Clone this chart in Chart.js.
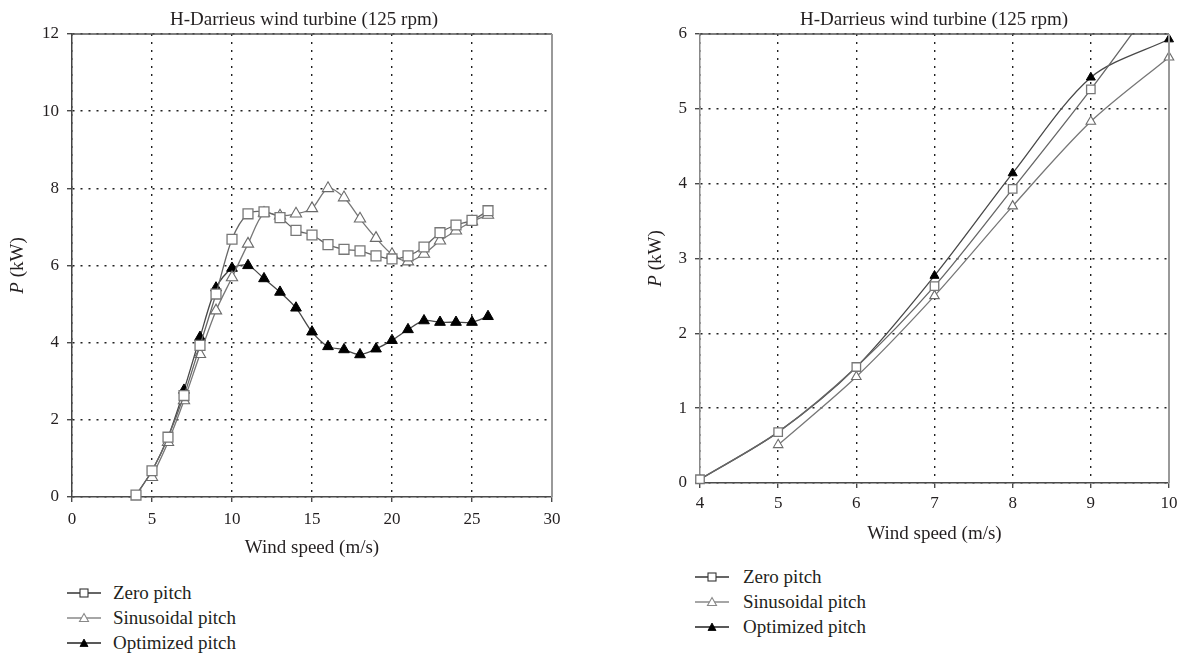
<!DOCTYPE html>
<html>
<head>
<meta charset="utf-8">
<script src="https://cdn.jsdelivr.net/npm/chart.js@4.4.1/dist/chart.umd.min.js"></script>
<style>
  body { margin: 0; background: #fff; width: 1194px; height: 655px; position: relative; overflow: hidden; font-family: "Liberation Serif", "DejaVu Serif", serif; color: #231f20; }
  canvas { position: absolute; top: 0; }
  #chart-left { left: 0; }
  #chart-right { left: 620px; }
  .legend { position: absolute; font-size: 19px; }
  .legend .row { display: flex; align-items: center; height: 25px; }
  .legend svg { flex: none; }
  #legend-left { left: 67px; top: 580px; }
  #legend-left svg { margin-right: 12px; }
  #legend-right { left: 695px; top: 564px; }
  #legend-right svg { margin-right: 14px; }
</style>
</head>
<body>
<canvas id="chart-left" width="600" height="560"></canvas>
<canvas id="chart-right" width="574" height="560"></canvas>
<div class="legend" id="legend-left"></div>
<div class="legend" id="legend-right"></div>
<script>
const windSpeed = [4, 5, 6, 7, 8, 9, 10, 11, 12, 13, 14, 15, 16, 17, 18, 19, 20, 21, 22, 23, 24, 25, 26];
const zeroPitch = [0.05, 0.68, 1.55, 2.63, 3.93, 5.26, 6.68, 7.34, 7.39, 7.24, 6.91, 6.79, 6.54, 6.42, 6.38, 6.25, 6.17, 6.25, 6.48, 6.85, 7.05, 7.17, 7.42];
const sinusoidalPitch = [null, 0.51, 1.42, 2.50, 3.70, 4.83, 5.69, 6.56, 7.36, 7.29, 7.34, 7.48, 8.00, 7.76, 7.21, 6.71, 6.29, 6.10, 6.30, 6.64, 6.90, 7.14, 7.31];
// below 7 m/s the optimized curve runs on the zero pitch one
const optimizedPitch = [0.05, 0.68, 1.55, 2.77, 4.14, 5.42, 5.93, 6.00, 5.66, 5.31, 4.90, 4.28, 3.90, 3.82, 3.69, 3.84, 4.06, 4.34, 4.57, 4.53, 4.53, 4.53, 4.68];
const optimizedMarkFrom = 7;

const seriesNames = ["Zero pitch", "Sinusoidal pitch", "Optimized pitch"];
const chartTitle = "H-Darrieus wind turbine (125 rpm)";
const xAxisTitle = "Wind speed (m/s)";

const INK = "#231f20";
const SERIF = '"Liberation Serif", "DejaVu Serif", serif';

function points(values, maxX){
  return windSpeed
    .map((x, i) => ({ x, y: values[i] }))
    .filter((p) => p.y !== null && p.x <= maxX);
}

// title, rotated y label with italic P, top/right frame
const decor = {
  id: "decor",
  afterDraw(chart, args, o){
    const { ctx, chartArea: a } = chart;
    ctx.save();
    ctx.lineWidth = 1.5;
    ctx.strokeStyle = o.topColor;
    ctx.beginPath();
    ctx.moveTo(a.left, a.top);
    ctx.lineTo(a.right, a.top);
    ctx.stroke();
    ctx.lineWidth = 2;
    ctx.strokeStyle = o.rightColor;
    ctx.beginPath();
    ctx.moveTo(a.right, a.top);
    ctx.lineTo(a.right, a.bottom);
    ctx.stroke();

    ctx.fillStyle = INK;
    ctx.font = `19px ${SERIF}`;
    ctx.textAlign = "center";
    ctx.textBaseline = "alphabetic";
    ctx.fillText(chartTitle, o.titleX, 25);

    ctx.translate(o.yLabelX, (a.top + a.bottom) / 2);
    ctx.rotate(-Math.PI / 2);
    const fi = `italic 19px ${SERIF}`;
    const fr = `19px ${SERIF}`;
    ctx.font = fi;
    const w1 = ctx.measureText("P").width;
    ctx.font = fr;
    const w2 = ctx.measureText(" (kW)").width;
    const x0 = -(w1 + w2) / 2;
    ctx.textAlign = "left";
    ctx.textBaseline = "middle";
    ctx.font = fi;
    ctx.fillText("P", x0, 0);
    ctx.font = fr;
    ctx.fillText(" (kW)", x0 + w1, 0);
    ctx.restore();
  },
};

function makeChart(id, cfg){
  const axisColor = "#4a4a4a";
  const scaleCommon = {
    type: "linear",
    grid: { color: "#222", lineWidth: 1.4, drawTicks: true, tickLength: 5, tickColor: axisColor, tickWidth: 1.4, tickBorderDash: [] },
    border: { display: true, width: 1.5, dash: [2, 6] },
  };
  const clip = { left: 10, right: 10, top: 10, bottom: 10 };
  return new Chart(document.getElementById(id), {
    type: "line",
    data: {
      datasets: [
        {
          label: seriesNames[0],
          data: points(zeroPitch, cfg.xMax),
          borderColor: "#666",
          borderWidth: 1.3,
          pointStyle: "rect",
          pointRadius: cfg.sq,
          pointBackgroundColor: "#fff",
          pointBorderColor: "#777",
          pointBorderWidth: 1.3,
          clip: { left: 10, right: 10, top: 0, bottom: 10 },
        },
        {
          label: seriesNames[1],
          data: points(sinusoidalPitch, cfg.xMax),
          borderColor: "#777",
          borderWidth: 1.3,
          pointStyle: "triangle",
          pointRadius: cfg.tri,
          pointBackgroundColor: "#fff",
          pointBorderColor: "#6a6a6a",
          pointBorderWidth: 1.1,
          clip,
        },
        {
          label: seriesNames[2],
          data: points(optimizedPitch, cfg.xMax),
          borderColor: "#484848",
          borderWidth: 1.3,
          pointStyle: "triangle",
          pointRadius: (c) => (c.raw && c.raw.x < optimizedMarkFrom ? 0 : cfg.tri - 0.3),
          pointBackgroundColor: "#000",
          pointBorderColor: "#000",
          pointBorderWidth: 1,
          clip,
        },
      ],
    },
    options: {
      responsive: false,
      animation: false,
      devicePixelRatio: 1,
      layout: { padding: { top: 34, right: cfg.padRight, left: 0, bottom: 0 } },
      elements: { line: { tension: 0.3 } },
      plugins: {
        legend: { display: false },
        title: { display: false },
        tooltip: { enabled: false },
        decor: { titleX: cfg.titleX, yLabelX: cfg.yLabelX, topColor: "#555", rightColor: cfg.rightColor },
      },
      scales: {
        x: {
          ...scaleCommon,
          min: cfg.xMin,
          max: cfg.xMax,
          border: { ...scaleCommon.border, color: axisColor },
          ticks: { stepSize: cfg.xStep, color: INK, font: { family: SERIF, size: 17 }, padding: cfg.xTickPad, maxRotation: 0 },
          title: { display: true, text: xAxisTitle, color: INK, font: { family: SERIF, size: 19 }, padding: { top: 0, bottom: cfg.xTitlePad } },
          afterFit(scale){ scale.height = cfg.xHeight; },
        },
        y: {
          ...scaleCommon,
          min: cfg.yMin,
          max: cfg.yMax,
          border: { ...scaleCommon.border, color: cfg.yAxisColor },
          ticks: { stepSize: cfg.yStep, color: INK, font: { family: SERIF, size: 17 }, padding: 8 },
          afterFit(scale){ scale.width = cfg.yWidth; },
        },
      },
    },
    plugins: [decor],
  });
}

makeChart("chart-left", {
  xMin: 0, xMax: 30, xStep: 5, yMin: 0, yMax: 12, yStep: 2,
  yWidth: 72, xHeight: 63, padRight: 48,
  xTickPad: 7, xTitlePad: 1,
  titleX: 304, yLabelX: 18,
  sq: 7, tri: 6.5,
  rightColor: "#999", yAxisColor: "#444",
});

makeChart("chart-right", {
  xMin: 4, xMax: 10, xStep: 1, yMin: 0, yMax: 6, yStep: 1,
  yWidth: 80, xHeight: 77, padRight: 25,
  xTickPad: 5, xTitlePad: 15,
  titleX: 314, yLabelX: 36,
  sq: 6, tri: 5.5,
  rightColor: "#999", yAxisColor: "#888",
});

// legend rows: line with the series marker, then the name
const legendIcons = [
  (c) => `<line x1="0" y1="6" x2="34" y2="6" stroke="${c}" stroke-width="1.3"/><rect x="13" y="2" width="8" height="8" fill="#fff" stroke="${c}" stroke-width="1.1"/>`,
  (c) => `<line x1="0" y1="6" x2="34" y2="6" stroke="${c}" stroke-width="1.3"/><polygon points="17,1.5 21.5,9.5 12.5,9.5" fill="#fff" stroke="${c}" stroke-width="1.1"/>`,
  (c) => `<line x1="0" y1="6" x2="34" y2="6" stroke="${c}" stroke-width="1.3"/><polygon points="17,2 21,9.5 13,9.5" fill="#000" stroke="#000" stroke-width="0.8"/>`,
];
const legendColors = ["#333", "#888", "#222"];

function renderLegend(id){
  const root = document.getElementById(id);
  root.innerHTML = seriesNames.map((name, i) => `
    <div class="row"><svg width="34" height="12">${legendIcons[i](legendColors[i])}</svg><span>${name}</span></div>
  `).join("");
}

renderLegend("legend-left");
renderLegend("legend-right");
</script>
</body>
</html>
